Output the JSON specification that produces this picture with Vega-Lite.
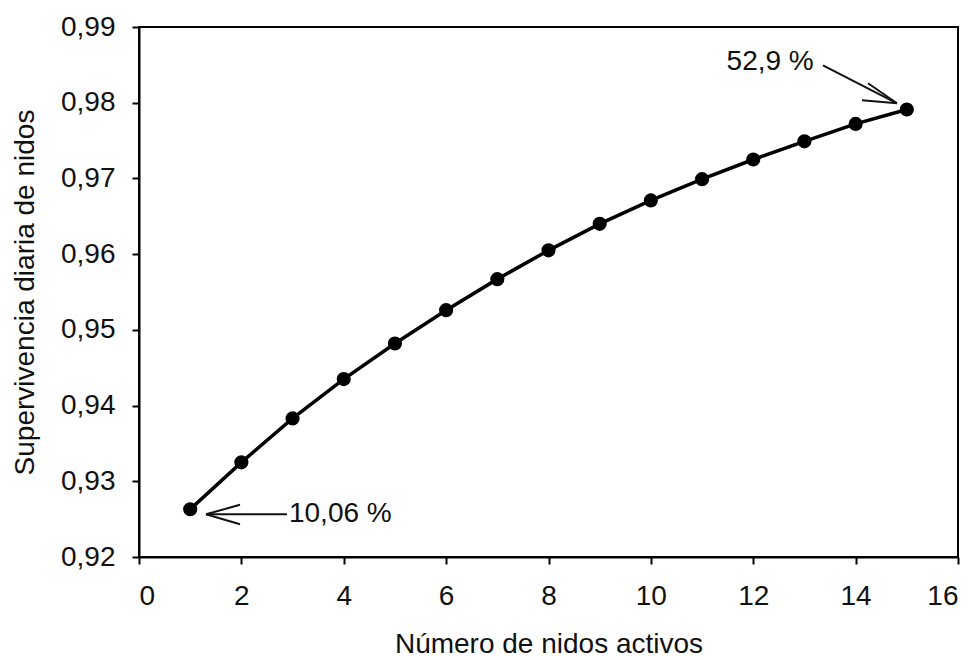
{
  "$schema": "https://vega.github.io/schema/vega-lite/v6.json",
  "width": 819,
  "height": 530,
  "autosize": {"type": "none"},
  "padding": {"left": 139, "top": 27, "right": 18, "bottom": 103},
  "background": "white",
  "config": {
    "font": "Liberation Sans",
    "view": {"stroke": "black", "strokeWidth": 2},
    "axis": {
      "domainColor": "black", "domainWidth": 2, "tickColor": "black", "tickWidth": 2,
      "tickSize": 7, "grid": false, "labelColor": "#111", "titleColor": "#111",
      "labelFontSize": 28, "titleFontSize": 28, "titleFontWeight": "normal", "labelFont": "Liberation Sans", "titleFont": "Liberation Sans"
    }
  },
  "datasets": {
    "pts": [
      {"n": 1, "s": 0.9263}, {"n": 2, "s": 0.9325}, {"n": 3, "s": 0.9383}, {"n": 4, "s": 0.9435},
      {"n": 5, "s": 0.9482}, {"n": 6, "s": 0.9526}, {"n": 7, "s": 0.9567}, {"n": 8, "s": 0.9605},
      {"n": 9, "s": 0.9640}, {"n": 10, "s": 0.9671}, {"n": 11, "s": 0.9699}, {"n": 12, "s": 0.9725},
      {"n": 13, "s": 0.9749}, {"n": 14, "s": 0.9772}, {"n": 15, "s": 0.9791}
    ],
    "arrows": [
      {"x": 2.891, "y": 0.92564, "x2": 1.309, "y2": 0.92564},
      {"x": 1.973, "y": 0.926894, "x2": 1.309, "y2": 0.92564},
      {"x": 1.973, "y": 0.924319, "x2": 1.309, "y2": 0.92564},
      {"x": 13.363, "y": 0.984942, "x2": 14.808, "y2": 0.979923},
      {"x": 14.242, "y": 0.982564, "x2": 14.808, "y2": 0.979923},
      {"x": 14.124, "y": 0.980320, "x2": 14.808, "y2": 0.979923}
    ],
    "labelLeft": [
      {"x": 2.93, "y": 0.92564, "t": "10,06 %"}
    ],
    "labelCenter": [
      {"x": 12.33, "y": 0.98534, "t": "52,9 %"}
    ]
  },
  "layer": [
    {
      "data": {"name": "pts"},
      "mark": {"type": "line", "color": "black", "strokeWidth": 3.5},
      "encoding": {
        "x": {"field": "n", "type": "quantitative", "scale": {"domain": [0, 16], "nice": false},
          "axis": {"values": [0, 2, 4, 6, 8, 10, 12, 14, 16], "title": "Número de nidos activos", "labelPadding": 18, "titlePadding": 20}},
        "y": {"field": "s", "type": "quantitative", "scale": {"domain": [0.92, 0.99], "nice": false, "zero": false},
          "axis": {"values": [0.92, 0.93, 0.94, 0.95, 0.96, 0.97, 0.98, 0.99], "title": "Supervivencia diaria de nidos",
            "labelExpr": "replace(format(datum.value, '.2f'), '.', ',')", "labelPadding": 17, "titlePadding": 21}}
      }
    },
    {
      "data": {"name": "pts"},
      "mark": {"type": "point", "filled": true, "color": "black", "size": 200, "opacity": 1},
      "encoding": {
        "x": {"field": "n", "type": "quantitative"},
        "y": {"field": "s", "type": "quantitative"}
      }
    },
    {
      "data": {"name": "arrows"},
      "mark": {"type": "rule", "color": "#111", "strokeWidth": 2},
      "encoding": {
        "x": {"field": "x", "type": "quantitative"},
        "y": {"field": "y", "type": "quantitative"},
        "x2": {"field": "x2"},
        "y2": {"field": "y2"}
      }
    },
    {
      "data": {"name": "labelLeft"},
      "mark": {"type": "text", "fontSize": 28, "color": "#111", "baseline": "middle", "align": "left", "font": "Liberation Sans"},
      "encoding": {
        "x": {"field": "x", "type": "quantitative"},
        "y": {"field": "y", "type": "quantitative"},
        "text": {"field": "t"}
      }
    },
    {
      "data": {"name": "labelCenter"},
      "mark": {"type": "text", "fontSize": 28, "color": "#111", "baseline": "middle", "align": "center", "font": "Liberation Sans"},
      "encoding": {
        "x": {"field": "x", "type": "quantitative"},
        "y": {"field": "y", "type": "quantitative"},
        "text": {"field": "t"}
      }
    }
  ]
}
